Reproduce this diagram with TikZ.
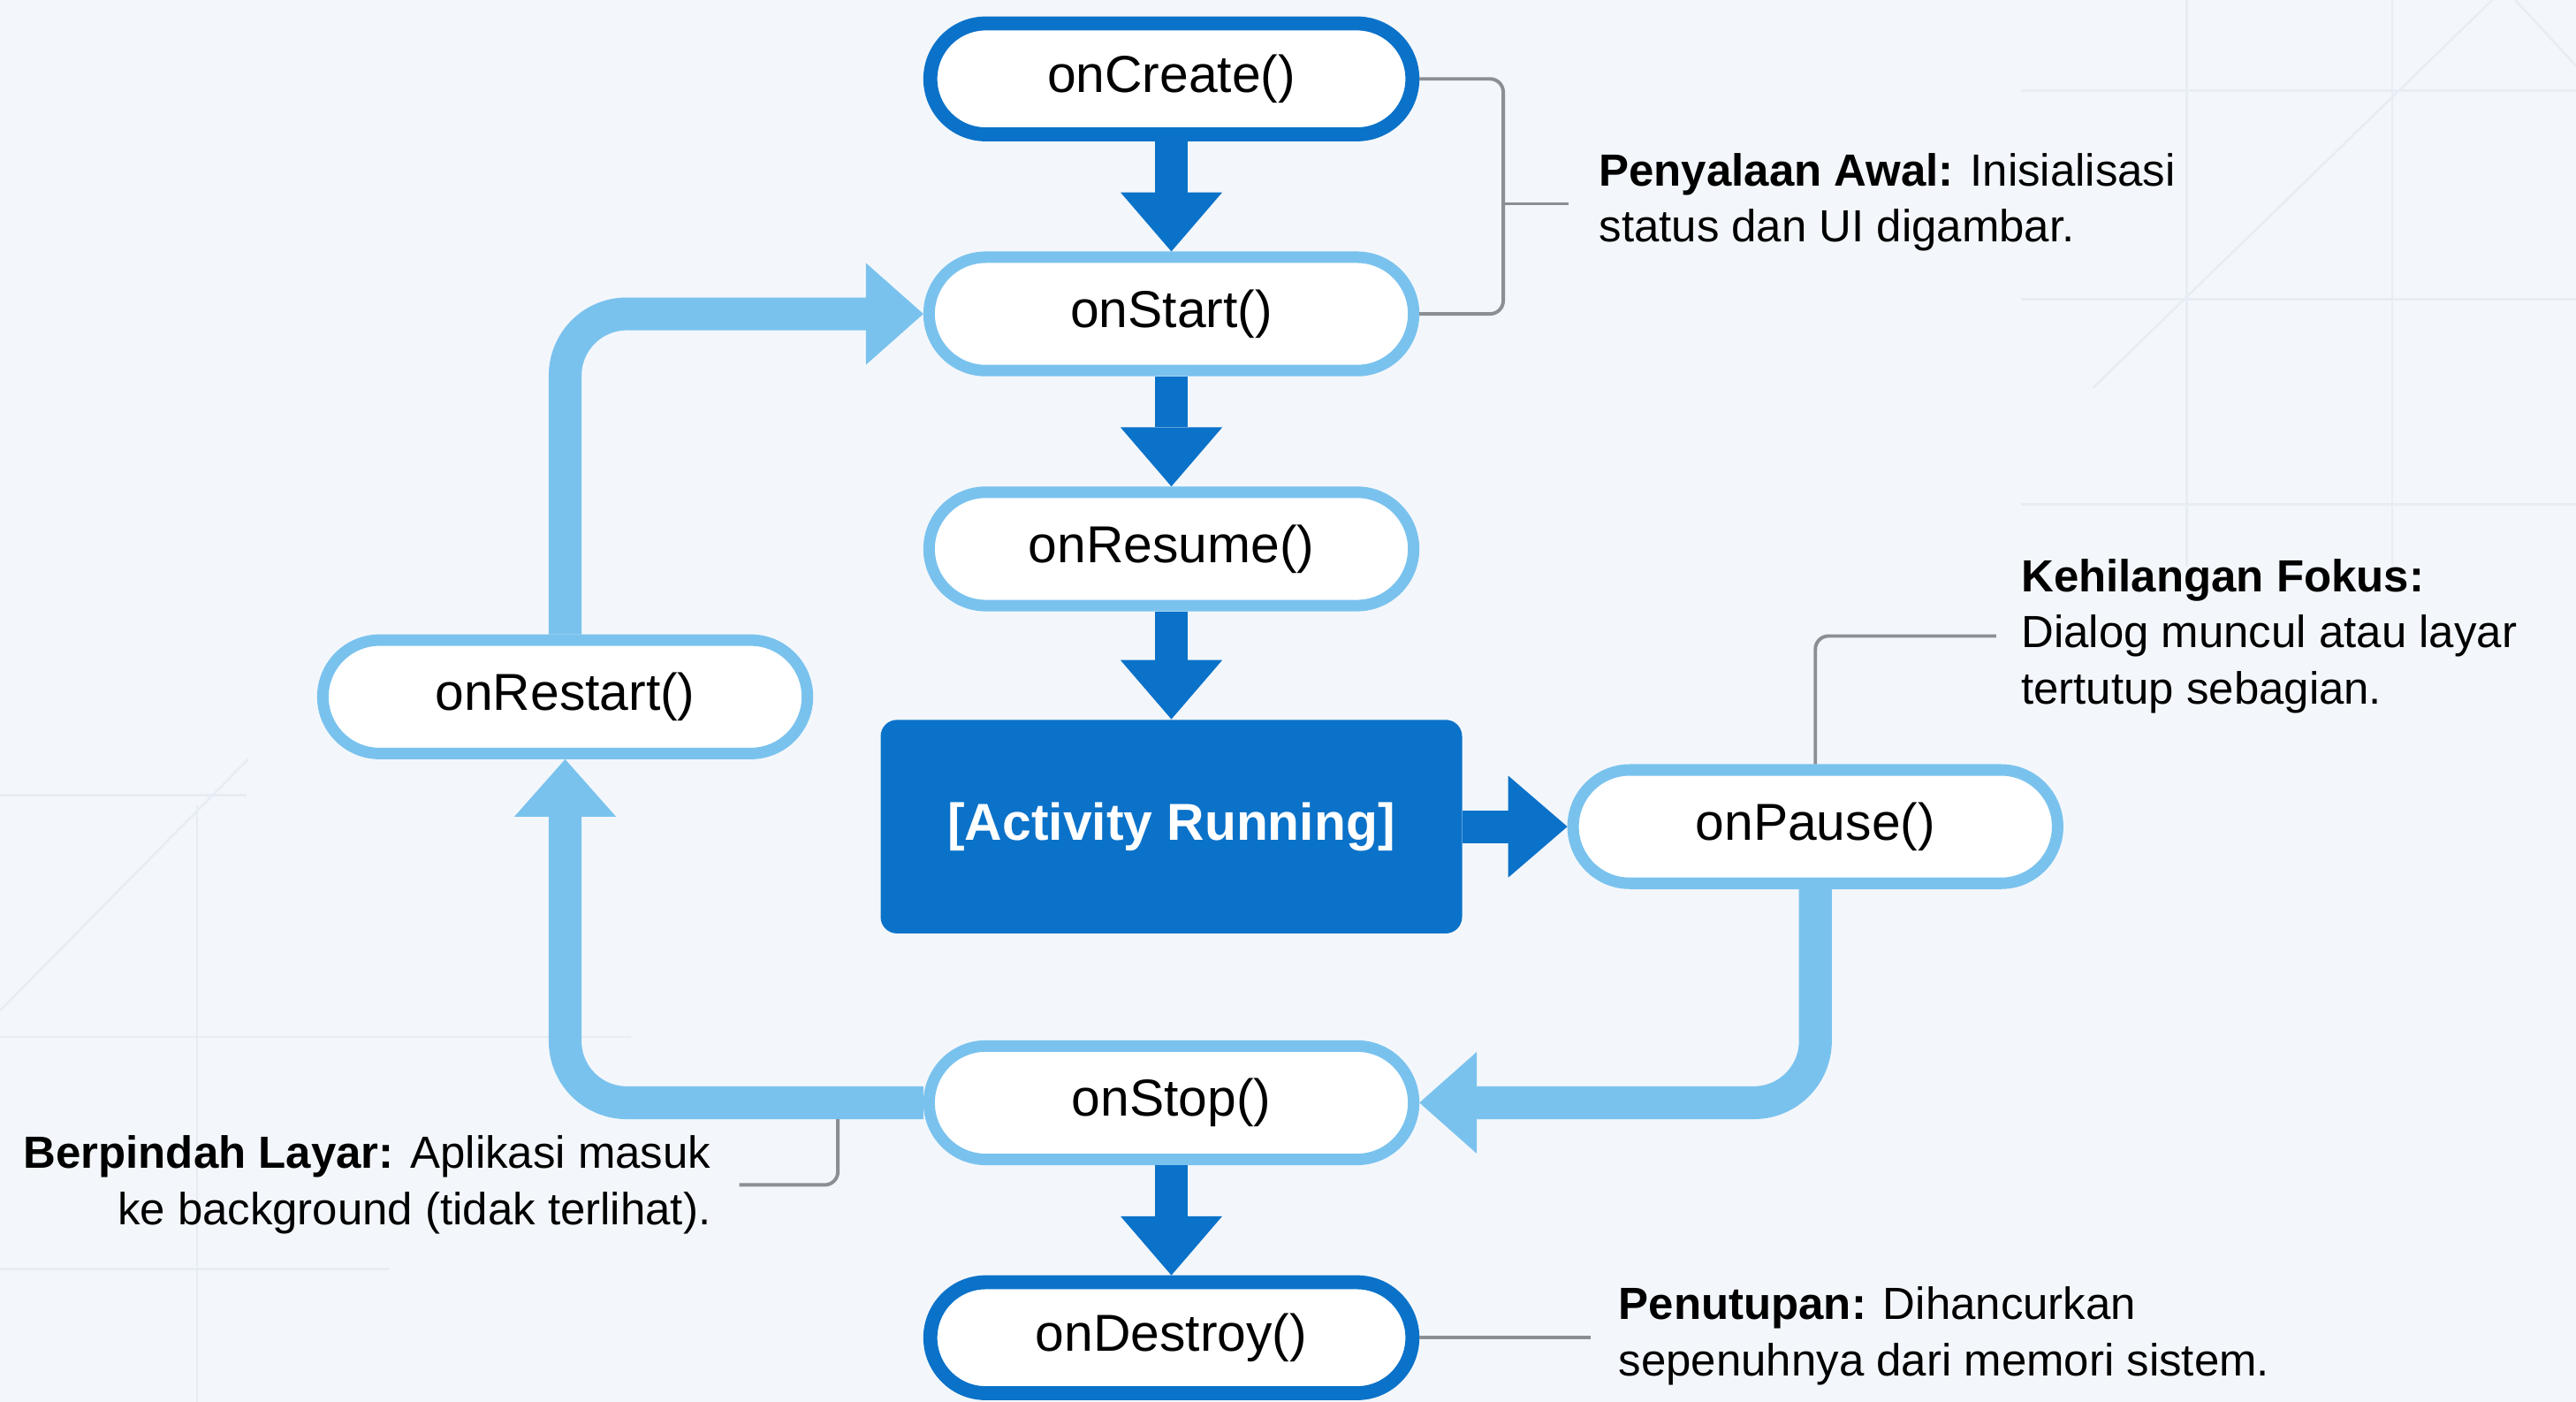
\documentclass[tikz,border=0pt]{standalone}
\usepackage{fontspec}
\setmainfont{Liberation Sans}
\usetikzlibrary{arrows.meta}
\definecolor{bgc}{HTML}{F3F7FB}
\definecolor{dblue}{HTML}{0B72C9}
\definecolor{lblue}{HTML}{7AC2EE}
\definecolor{notegray}{HTML}{8A8F95}
\definecolor{gridc}{HTML}{E7EDF4}
\tikzset{
  lifebase/.style={rectangle, fill=white, inner sep=0pt, text=black,
    font=\fontsize{18}{22}\selectfont},
  lifedark/.style={lifebase, draw=dblue, line width=0.17cm,
    minimum width=5.87cm, minimum height=1.35cm, rounded corners=0.675cm},
  lifelight/.style={lifebase, draw=lblue, line width=0.14cm,
    minimum width=5.9cm, minimum height=1.38cm, rounded corners=0.69cm},
  runbox/.style={rectangle, rounded corners=0.2cm, fill=dblue,
    minimum width=7.08cm, minimum height=2.6cm, text=white,
    font=\bfseries\fontsize{18}{22}\selectfont},
  darr/.style={draw=dblue, line width=0.4cm,
    -{Triangle[width=1.24cm, length=0.72cm, line width=0pt]}},
  larr/.style={draw=lblue, line width=0.4cm, rounded corners=0.75cm,
    -{Triangle[width=1.24cm, length=0.7cm, line width=0pt]}},
  notel/.style={draw=notegray, line width=1.2pt, rounded corners=0.16cm},
  notetext/.style={inner sep=0pt, text=black,
    font=\fontsize{15.6}{19.4}\selectfont},
  gridl/.style={draw=gridc, line width=0.8pt},
}
\begin{document}
\begin{tikzpicture}[x=0.02cm, y=-0.02cm]
\path[fill=bgc] (0,0) rectangle (1568,853);
\path[use as bounding box] (0,0) rectangle (1568,853);
% faint background grid
\draw[gridl] (1230,55) -- (1568,55);
\draw[gridl] (1230,182) -- (1568,182);
\draw[gridl] (1230,307) -- (1568,307);
\draw[gridl] (1331,0) -- (1331,345);
\draw[gridl] (1456,0) -- (1456,345);
\draw[gridl] (1517,0) -- (1274,236);
\draw[gridl] (1531,0) -- (1568,40);
\draw[gridl] (0,484) -- (150,484);
\draw[gridl] (0,631) -- (384,631);
\draw[gridl] (0,772) -- (237,772);
\draw[gridl] (120,490) -- (120,853);
\draw[gridl] (0,615) -- (151,462);
% lifecycle nodes
\node[lifedark]  (create)  at (713,48)  {onCreate()};
\node[lifelight] (start)   at (713,191) {onStart()};
\node[lifelight] (resume)  at (713,334) {onResume()};
\node[runbox]    (act)     at (713,503) {[Activity Running]};
\node[lifelight] (pause)   at (1105,503) {onPause()};
\node[lifelight] (restart) at (344,424) {onRestart()};
\node[lifelight] (stop)    at (713,671) {onStop()};
\node[lifedark]  (destroy) at (713,814) {onDestroy()};
% annotations
\node[notetext, anchor=west, align=left] (pen) at (973,123)
  {\textbf{Penyalaan Awal:} Inisialisasi\\status dan UI digambar.};
\node[notetext, anchor=west, align=left] (keh) at (1230,387)
  {\textbf{Kehilangan Fokus:}\\Dialog muncul atau layar\\tertutup sebagian.};
\node[notetext, anchor=east, align=right] (ber) at (433,721)
  {\textbf{Berpindah Layar:} Aplikasi masuk\\ke background (tidak terlihat).};
\node[notetext, anchor=west, align=left] (penut) at (985,813)
  {\textbf{Penutupan:} Dihancurkan\\sepenuhnya dari memori sistem.};
% main arrows
\draw[darr] (create.south) -- (start.north);
\draw[darr] (start.south) -- (resume.north);
\draw[darr] (resume.south) -- (act.north);
\draw[darr] (act.east) -- (pause.west);
\draw[darr] (stop.south) -- (destroy.north);
% loop arrows
\draw[larr] (pause.south) |- (stop.east);
\draw[larr] (stop.west) -| (restart.south);
\draw[larr] (restart.north) |- (start.west);
% note connectors
\coordinate (brk) at (915,124);
\draw[notel] (create.east) -| (brk) |- (start.east);
\draw[notel, shorten >=0.36cm] (brk) -- (brk -| pen.west);
\draw[notel, shorten >=0.3cm] (pause.north) |- (keh.west);
\coordinate (bk) at (510,681);
\draw[notel, shorten >=0.34cm] (bk) |- (ber.east);
\draw[notel, shorten >=0.34cm] (destroy.east) -- (destroy.east -| penut.west);
\end{tikzpicture}
\end{document}
